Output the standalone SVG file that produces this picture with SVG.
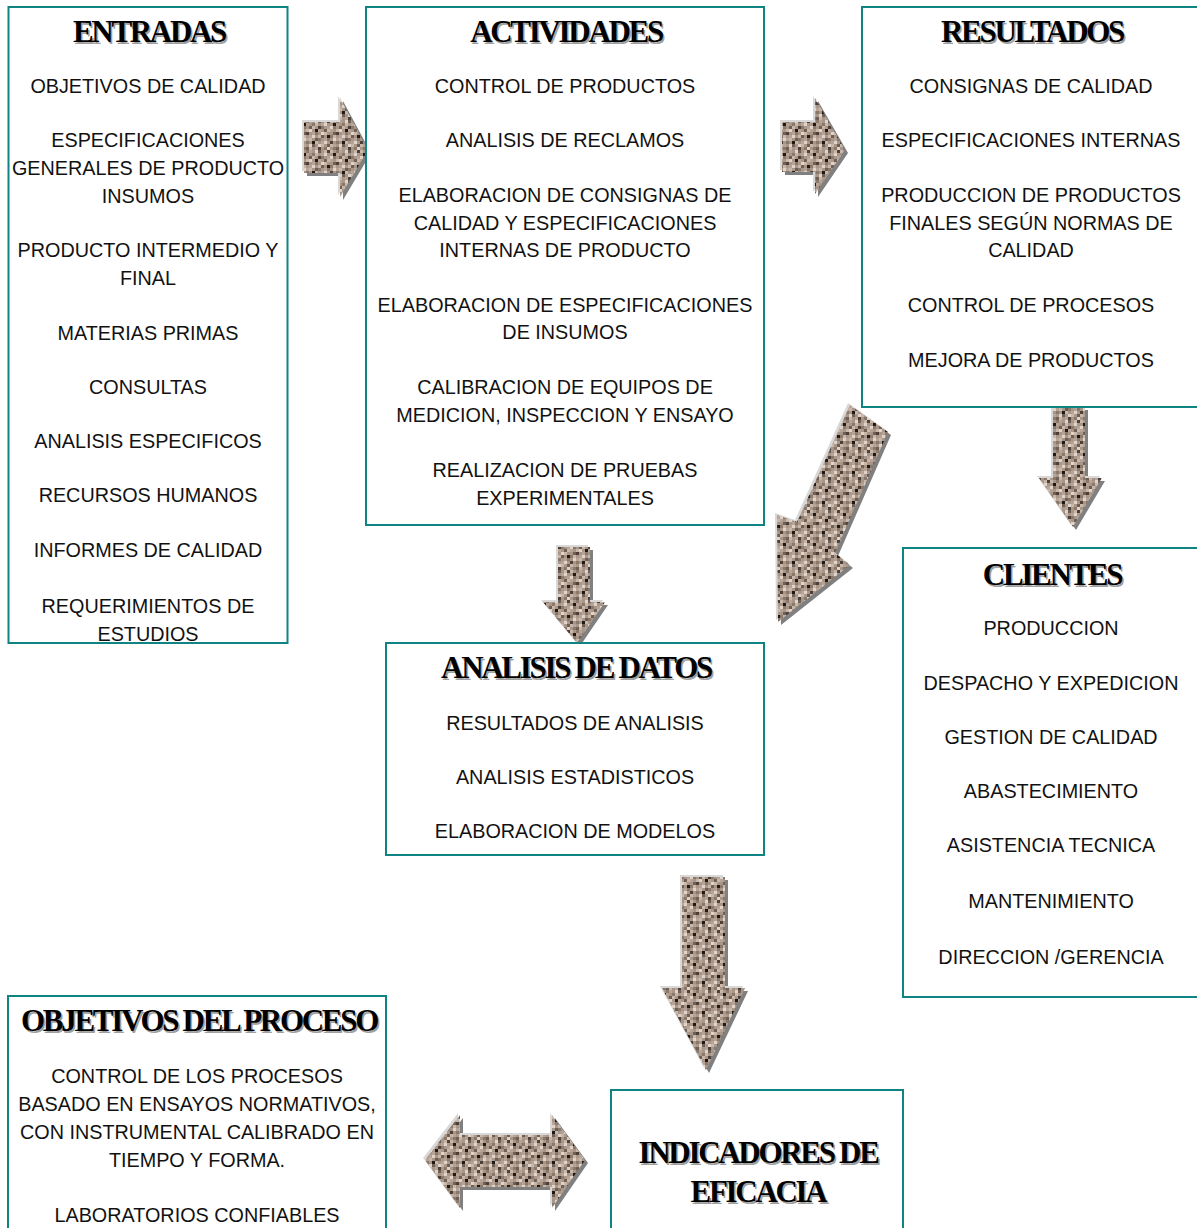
<svg xmlns="http://www.w3.org/2000/svg" xmlns:xlink="http://www.w3.org/1999/xlink" width="1197" height="1228" viewBox="0 0 1197 1228">
  <style>
    .box { fill: #ffffff; stroke: #0f8482; stroke-width: 2; }
    .hd { font-family: "Liberation Serif", "Times New Roman", serif; font-weight: bold; font-size: 31px; letter-spacing: -2.3px; text-anchor: middle; fill: #000000; }
    .hs { font-family: "Liberation Serif", "Times New Roman", serif; font-weight: bold; font-size: 31px; letter-spacing: -2.3px; text-anchor: middle; fill: #a0a0a0; }
    .tx { font-family: "Liberation Sans", Arial, sans-serif; font-size: 19.8px; text-anchor: middle; fill: #111111; }
    .sh { fill: #808080; }
    .hl { fill: #d8d8d8; }
    .gr { fill: url(#granite); }
    .p1 { fill: #c9b8aa; } .p2 { fill: #8a786b; } .p3 { fill: #e0d4ca; } .p4 { fill: #4d4038; }
    .p5 { fill: #1e1915; } .p6 { fill: #b7a496; } .p7 { fill: #6f5f54; }
  </style>
  <defs>
    <!-- speckled granite fill for the block arrows -->
    <pattern id="granite" patternUnits="userSpaceOnUse" width="30" height="30">
      <rect width="30" height="30" fill="#a89688"/>
      <rect x="0" y="0" width="3" height="3" class="p1"/><rect x="6" y="0" width="3" height="3" class="p2"/><rect x="9" y="0" width="3" height="3" class="p6"/><rect x="15" y="0" width="3" height="3" class="p3"/><rect x="18" y="0" width="3" height="3" class="p7"/><rect x="24" y="0" width="3" height="3" class="p1"/><rect x="27" y="0" width="3" height="3" class="p4"/>
      <rect x="3" y="3" width="3" height="3" class="p5"/><rect x="6" y="3" width="3" height="3" class="p6"/><rect x="12" y="3" width="3" height="3" class="p2"/><rect x="15" y="3" width="3" height="3" class="p1"/><rect x="21" y="3" width="3" height="3" class="p6"/><rect x="24" y="3" width="3" height="3" class="p3"/>
      <rect x="0" y="6" width="3" height="3" class="p3"/><rect x="3" y="6" width="3" height="3" class="p2"/><rect x="9" y="6" width="3" height="3" class="p7"/><rect x="12" y="6" width="3" height="3" class="p1"/><rect x="18" y="6" width="3" height="3" class="p4"/><rect x="21" y="6" width="3" height="3" class="p2"/><rect x="27" y="6" width="3" height="3" class="p6"/>
      <rect x="0" y="9" width="3" height="3" class="p6"/><rect x="6" y="9" width="3" height="3" class="p1"/><rect x="9" y="9" width="3" height="3" class="p3"/><rect x="15" y="9" width="3" height="3" class="p5"/><rect x="18" y="9" width="3" height="3" class="p6"/><rect x="24" y="9" width="3" height="3" class="p7"/><rect x="27" y="9" width="3" height="3" class="p1"/>
      <rect x="3" y="12" width="3" height="3" class="p7"/><rect x="6" y="12" width="3" height="3" class="p4"/><rect x="12" y="12" width="3" height="3" class="p6"/><rect x="15" y="12" width="3" height="3" class="p2"/><rect x="21" y="12" width="3" height="3" class="p3"/><rect x="24" y="12" width="3" height="3" class="p1"/>
      <rect x="0" y="15" width="3" height="3" class="p2"/><rect x="3" y="15" width="3" height="3" class="p1"/><rect x="9" y="15" width="3" height="3" class="p6"/><rect x="12" y="15" width="3" height="3" class="p3"/><rect x="18" y="15" width="3" height="3" class="p1"/><rect x="21" y="15" width="3" height="3" class="p7"/><rect x="27" y="15" width="3" height="3" class="p5"/>
      <rect x="3" y="18" width="3" height="3" class="p3"/><rect x="6" y="18" width="3" height="3" class="p6"/><rect x="9" y="18" width="3" height="3" class="p1"/><rect x="15" y="18" width="3" height="3" class="p7"/><rect x="18" y="18" width="3" height="3" class="p2"/><rect x="24" y="18" width="3" height="3" class="p6"/><rect x="27" y="18" width="3" height="3" class="p2"/>
      <rect x="0" y="21" width="3" height="3" class="p4"/><rect x="6" y="21" width="3" height="3" class="p2"/><rect x="12" y="21" width="3" height="3" class="p5"/><rect x="15" y="21" width="3" height="3" class="p1"/><rect x="21" y="21" width="3" height="3" class="p6"/><rect x="24" y="21" width="3" height="3" class="p3"/>
      <rect x="0" y="24" width="3" height="3" class="p1"/><rect x="3" y="24" width="3" height="3" class="p6"/><rect x="9" y="24" width="3" height="3" class="p3"/><rect x="12" y="24" width="3" height="3" class="p7"/><rect x="18" y="24" width="3" height="3" class="p3"/><rect x="21" y="24" width="3" height="3" class="p1"/><rect x="27" y="24" width="3" height="3" class="p7"/>
      <rect x="3" y="27" width="3" height="3" class="p2"/><rect x="6" y="27" width="3" height="3" class="p7"/><rect x="9" y="27" width="3" height="3" class="p1"/><rect x="15" y="27" width="3" height="3" class="p6"/><rect x="18" y="27" width="3" height="3" class="p4"/><rect x="24" y="27" width="3" height="3" class="p2"/><rect x="27" y="27" width="3" height="3" class="p3"/>
    </pattern>
    <!-- arrow outlines -->
    <polygon id="arRight1" points="304,122 340,122 340,98 368,150 340,197 340,173 304,173"/>
    <polygon id="arRight2" points="782,122 815,122 815,98 845,150 815,194 815,172 782,172"/>
    <polygon id="arDownAct" points="558,547 590,547 590,602 605,602 577,643 543,602 558,602"/>
    <polygon id="arDiag" points="850,405 888,432 835,553 850,565 778,622 777,515 797,522"/>
    <polygon id="arDownRes" points="1053,407 1085,407 1085,478 1102,478 1073,527 1039,478 1053,478"/>
    <polygon id="arDownBig" points="682,877 725,877 725,988 745,988 706,1070 662,988 682,988"/>
    <polygon id="arBoth" points="425,1160 460,1115 460,1135 552,1135 552,1115 585,1160 552,1208 552,1187 460,1187 460,1208"/>
  </defs>

  <!-- connectors: textured block arrows -->
  <g id="connectors">
    <g id="arrow-entradas-actividades">
      <use xlink:href="#arRight1" class="sh" transform="translate(3,3)"/>
      <use xlink:href="#arRight1" class="hl" transform="translate(-2,-2)"/>
      <use xlink:href="#arRight1" class="gr"/>
    </g>
    <g id="arrow-actividades-resultados">
      <use xlink:href="#arRight2" class="sh" transform="translate(3,3)"/>
      <use xlink:href="#arRight2" class="hl" transform="translate(-2,-2)"/>
      <use xlink:href="#arRight2" class="gr"/>
    </g>
    <g id="arrow-actividades-analisis">
      <use xlink:href="#arDownAct" class="sh" transform="translate(3,3)"/>
      <use xlink:href="#arDownAct" class="hl" transform="translate(-2,-2)"/>
      <use xlink:href="#arDownAct" class="gr"/>
    </g>
    <g id="arrow-resultados-analisis">
      <use xlink:href="#arDiag" class="sh" transform="translate(3,3)"/>
      <use xlink:href="#arDiag" class="hl" transform="translate(-2,-2)"/>
      <use xlink:href="#arDiag" class="gr"/>
    </g>
    <g id="arrow-resultados-clientes">
      <use xlink:href="#arDownRes" class="sh" transform="translate(3,3)"/>
      <use xlink:href="#arDownRes" class="hl" transform="translate(-2,-2)"/>
      <use xlink:href="#arDownRes" class="gr"/>
    </g>
    <g id="arrow-analisis-indicadores">
      <use xlink:href="#arDownBig" class="sh" transform="translate(3,3)"/>
      <use xlink:href="#arDownBig" class="hl" transform="translate(-2,-2)"/>
      <use xlink:href="#arDownBig" class="gr"/>
    </g>
    <g id="arrow-objetivos-indicadores">
      <use xlink:href="#arBoth" class="sh" transform="translate(3,3)"/>
      <use xlink:href="#arBoth" class="hl" transform="translate(-2,-2)"/>
      <use xlink:href="#arBoth" class="gr"/>
    </g>
  </g>

  <g id="entradas">
    <rect class="box" x="8.5" y="7" width="279" height="636"/>
    <text class="hs" x="150.5" y="43.5">ENTRADAS</text>
    <text class="hd" x="149" y="42">ENTRADAS</text>
    <text class="tx" x="148" y="93">OBJETIVOS DE CALIDAD</text>
    <text class="tx" x="148" y="147">ESPECIFICACIONES</text>
    <text class="tx" x="148" y="175">GENERALES DE PRODUCTO</text>
    <text class="tx" x="148" y="203">INSUMOS</text>
    <text class="tx" x="148" y="257">PRODUCTO INTERMEDIO Y</text>
    <text class="tx" x="148" y="285">FINAL</text>
    <text class="tx" x="148" y="340">MATERIAS PRIMAS</text>
    <text class="tx" x="148" y="394">CONSULTAS</text>
    <text class="tx" x="148" y="448">ANALISIS ESPECIFICOS</text>
    <text class="tx" x="148" y="502">RECURSOS HUMANOS</text>
    <text class="tx" x="148" y="557">INFORMES DE CALIDAD</text>
    <text class="tx" x="148" y="613">REQUERIMIENTOS DE</text>
    <text class="tx" x="148" y="641">ESTUDIOS</text>
  </g>

  <g id="actividades">
    <rect class="box" x="366" y="7" width="398" height="518"/>
    <text class="hs" x="567.5" y="43.5">ACTIVIDADES</text>
    <text class="hd" x="566" y="42">ACTIVIDADES</text>
    <text class="tx" x="565" y="93">CONTROL DE PRODUCTOS</text>
    <text class="tx" x="565" y="147">ANALISIS DE RECLAMOS</text>
    <text class="tx" x="565" y="202">ELABORACION DE CONSIGNAS DE</text>
    <text class="tx" x="565" y="230">CALIDAD Y ESPECIFICACIONES</text>
    <text class="tx" x="565" y="257">INTERNAS DE PRODUCTO</text>
    <text class="tx" x="565" y="312">ELABORACION DE ESPECIFICACIONES</text>
    <text class="tx" x="565" y="339">DE INSUMOS</text>
    <text class="tx" x="565" y="394">CALIBRACION DE EQUIPOS DE</text>
    <text class="tx" x="565" y="422">MEDICION, INSPECCION Y ENSAYO</text>
    <text class="tx" x="565" y="477">REALIZACION DE PRUEBAS</text>
    <text class="tx" x="565" y="505">EXPERIMENTALES</text>
  </g>

  <g id="resultados">
    <rect class="box" x="862" y="7" width="345" height="400"/>
    <text class="hs" x="1033.5" y="43.5">RESULTADOS</text>
    <text class="hd" x="1032" y="42">RESULTADOS</text>
    <text class="tx" x="1031" y="93">CONSIGNAS DE CALIDAD</text>
    <text class="tx" x="1031" y="147">ESPECIFICACIONES INTERNAS</text>
    <text class="tx" x="1031" y="202">PRODUCCION DE PRODUCTOS</text>
    <text class="tx" x="1031" y="230">FINALES SEGÚN NORMAS DE</text>
    <text class="tx" x="1031" y="257">CALIDAD</text>
    <text class="tx" x="1031" y="312">CONTROL DE PROCESOS</text>
    <text class="tx" x="1031" y="367">MEJORA DE PRODUCTOS</text>
  </g>

  <g id="clientes">
    <rect class="box" x="903" y="548" width="304" height="449"/>
    <text class="hs" x="1053.5" y="586.5">CLIENTES</text>
    <text class="hd" x="1052" y="585">CLIENTES</text>
    <text class="tx" x="1051" y="635">PRODUCCION</text>
    <text class="tx" x="1051" y="690">DESPACHO Y EXPEDICION</text>
    <text class="tx" x="1051" y="744">GESTION DE CALIDAD</text>
    <text class="tx" x="1051" y="798">ABASTECIMIENTO</text>
    <text class="tx" x="1051" y="852">ASISTENCIA TECNICA</text>
    <text class="tx" x="1051" y="908">MANTENIMIENTO</text>
    <text class="tx" x="1051" y="964">DIRECCION /GERENCIA</text>
  </g>

  <g id="analisis-de-datos">
    <rect class="box" x="386" y="643" width="378" height="212"/>
    <text class="hs" x="577.5" y="679.5">ANALISIS DE DATOS</text>
    <text class="hd" x="576" y="678">ANALISIS DE DATOS</text>
    <text class="tx" x="575" y="730">RESULTADOS DE ANALISIS</text>
    <text class="tx" x="575" y="784">ANALISIS ESTADISTICOS</text>
    <text class="tx" x="575" y="838">ELABORACION DE MODELOS</text>
  </g>

  <g id="objetivos-del-proceso">
    <rect class="box" x="8" y="996" width="378" height="240"/>
    <text class="hs" x="200.5" y="1032.5">OBJETIVOS DEL PROCESO</text>
    <text class="hd" x="199" y="1031">OBJETIVOS DEL PROCESO</text>
    <text class="tx" x="197" y="1083">CONTROL DE LOS PROCESOS</text>
    <text class="tx" x="197" y="1111">BASADO EN ENSAYOS NORMATIVOS,</text>
    <text class="tx" x="197" y="1139">CON INSTRUMENTAL CALIBRADO EN</text>
    <text class="tx" x="197" y="1167">TIEMPO Y FORMA.</text>
    <text class="tx" x="197" y="1222">LABORATORIOS CONFIABLES</text>
  </g>

  <g id="indicadores-de-eficacia">
    <rect class="box" x="611" y="1090" width="292" height="150"/>
    <text class="hs" x="759.5" y="1164.5">INDICADORES DE</text>
    <text class="hd" x="758" y="1163">INDICADORES DE</text>
    <text class="hs" x="759.5" y="1203.5">EFICACIA</text>
    <text class="hd" x="758" y="1202">EFICACIA</text>
  </g>
</svg>
